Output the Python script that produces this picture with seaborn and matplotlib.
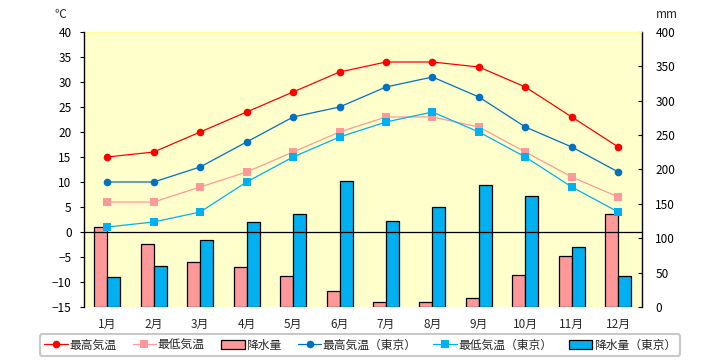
import numpy as np
import pandas as pd
import seaborn as sns
import matplotlib.pyplot as plt


months = ["1月", "2月", "3月", "4月", "5月", "6月", "7月", "8月", "9月", "10月", "11月", "12月"]

high = [15, 16, 20, 24, 28, 32, 34, 34, 33, 29, 23, 17]
low = [6, 6, 9, 12, 16, 20, 23, 23, 21, 16, 11, 7]
rain = [117, 91, 66, 58, 45, 24, 8, 8, 13, 46, 74, 136]

high_tokyo = [10, 10, 13, 18, 23, 25, 29, 31, 27, 21, 17, 12]
low_tokyo = [1, 2, 4, 10, 15, 19, 22, 24, 20, 15, 9, 4]
rain_tokyo = [43, 59, 98, 123, 136, 184, 125, 146, 178, 162, 88, 45]

temp_ticks = list(range(-15, 41, 5))
rain_ticks = list(range(0, 401, 50))

sns.set_theme(style="white")
plt.rcParams['font.family'] = ['Noto Sans CJK JP', 'DejaVu Sans']

fig = plt.figure(figsize=(7.2, 3.6), dpi=100)
ax1 = fig.add_axes([84 / 720, 1 - 307 / 360, (641.5 - 84) / 720, 275 / 360])
ax2 = ax1.twinx()

# lines
line_styles = [
    ("最高気温", high, "#FF0000", "o"),
    ("最低気温", low, "#FF9999", "s"),
    ("最高気温（東京）", high_tokyo, "#0070C0", "o"),
    ("最低気温（東京）", low_tokyo, "#00B0F0", "s"),
]
for name, vals, col, mk in line_styles:
    sns.lineplot(x=months, y=vals, ax=ax1, color=col, marker=mk, markersize=5.5,
                 markeredgewidth=0, linewidth=0.9, sort=False, label=name)
ax1.axhline(0, color="black", linewidth=0.9, zorder=1)

# bars
rain_df = pd.DataFrame({
    "月": months * 2,
    "mm": rain + rain_tokyo,
    "地点": ["降水量"] * 12 + ["降水量（東京）"] * 12,
})
sns.barplot(data=rain_df, x="月", y="mm", hue="地点", ax=ax2,
            palette={"降水量": "#FF9999", "降水量（東京）": "#00B0F0"},
            width=0.56, gap=0, edgecolor="black", linewidth=0.9, saturation=1)

ax1.set_zorder(ax2.get_zorder() + 1)
ax1.patch.set_visible(False)
ax2.patch.set_visible(True)
ax2.patch.set_facecolor("#FFFFCC")

ax1.set_ylim(-15, 40)
ax1.set_yticks(temp_ticks)
ax2.set_ylim(0, 400)
ax2.set_yticks(rain_ticks)
ax1.set_xlim(-0.5, 11.5)
ax1.set_xlabel("")
ax2.set_xlabel("")
ax1.set_ylabel("")
ax2.set_ylabel("")

for ax in (ax1, ax2):
    for s in ax.spines.values():
        s.set_visible(False)
ax1.spines["left"].set_visible(True)
ax1.spines["left"].set_color("black")
ax1.spines["left"].set_linewidth(1)
ax2.spines["right"].set_visible(True)
ax2.spines["right"].set_color("black")
ax2.spines["right"].set_linewidth(1)
ax2.spines["top"].set_visible(True)
ax2.spines["top"].set_color("#FFFF99")
ax2.spines["top"].set_linewidth(1)

ax1.tick_params(axis="y", left=True, direction="out", length=3, width=0.8,
                labelsize=8.5, pad=6, colors="black")
ax2.tick_params(axis="y", right=True, direction="in", length=3, width=0.8,
                labelsize=8.5, pad=10, colors="black")
ax1.tick_params(axis="x", bottom=False, labelsize=8.5, pad=2)

fig.text(60 / 720, 1 - 15 / 360, "℃", fontsize=8.5, ha="center", va="center")
fig.text(667 / 720, 1 - 14 / 360, "mm", fontsize=8.5, ha="center", va="center")

# legend
h1, l1 = ax1.get_legend_handles_labels()
h2, l2 = ax2.get_legend_handles_labels()
ax1.get_legend().remove()
ax2.get_legend().remove()
handles = [h1[0], h1[1], h2[0], h1[2], h1[3], h2[1]]
labels = [l1[0], l1[1], l2[0], l1[2], l1[3], l2[1]]
leg = fig.legend(handles, labels, loc="center", ncol=6, mode="expand",
                 bbox_to_anchor=(40 / 720, 1 - 358 / 360, 640 / 720, 26 / 360),
                 fontsize=8.5, frameon=True, fancybox=True, handlelength=2.0,
                 handleheight=0.7, handletextpad=0.1, borderaxespad=0,
                 borderpad=0.35)
leg.get_frame().set_edgecolor("#BBBBBB")
leg.get_frame().set_linewidth(1.5)

fig.savefig("out.png", dpi=100)
